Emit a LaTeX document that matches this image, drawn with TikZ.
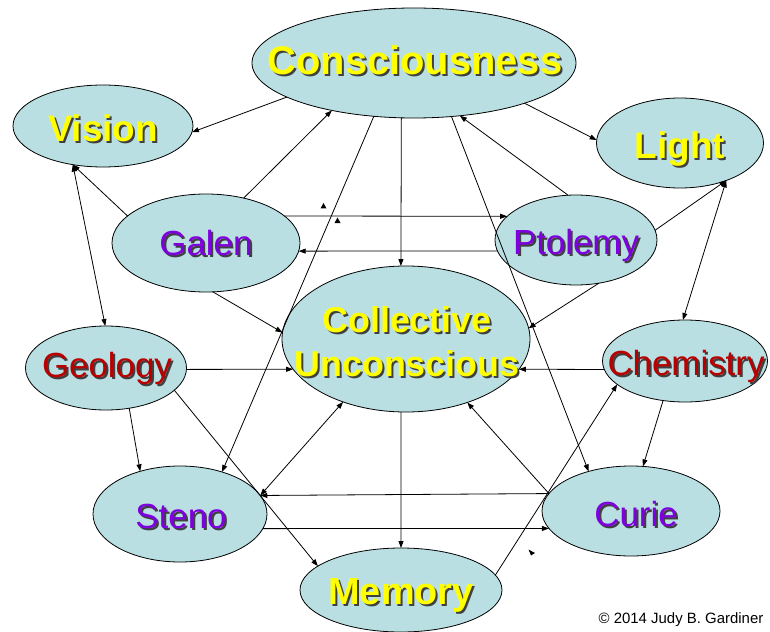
\documentclass[tikz,border=0pt]{standalone}
\usepackage{fontspec}
\setmainfont{Liberation Sans}
\usetikzlibrary{arrows.meta,shapes.geometric}
\definecolor{efill}{HTML}{B9DFE3}
\definecolor{tyel}{HTML}{FFFF00}
\definecolor{tpur}{HTML}{7F00DF}
\definecolor{tred}{HTML}{B80000}
\definecolor{tshd}{HTML}{404040}
\newcommand\shd[2]{\leavevmode\rlap{\kern2bp\raisebox{-2bp}{\textcolor{tshd}{#2}}}\textcolor{#1}{#2}}
\begin{document}
\begin{tikzpicture}[x=1bp,y=-1bp,
  elli/.style={ellipse,draw=black,line width=0.8bp,fill=efill,inner sep=0,outer sep=0},
  lbl/.style={inner sep=0,outer sep=0,anchor=base},
  bigb/.style={lbl,font=\fontsize{#1}{44}\selectfont\bfseries},
  reg/.style={lbl,font=\fontsize{35}{40}\selectfont},
  conn/.style={line width=0.8bp,-{Triangle[length=7bp,width=5bp]}},
  biconn/.style={line width=0.8bp,{Triangle[length=7bp,width=5bp]}-{Triangle[length=7bp,width=5bp]}}
]
\useasboundingbox (0,0) rectangle (770,632);

% ellipses
\node[elli,minimum width=324bp,minimum height=110bp] (cons) at (414,63) {};
\node[elli,minimum width=180bp,minimum height=82bp] (vision) at (103,126) {};
\node[elli,minimum width=167bp,minimum height=90bp] (light) at (680,143) {};
\node[elli,minimum width=188bp,minimum height=98bp] (galen) at (206,243) {};
\node[elli,minimum width=162bp,minimum height=90bp] (ptolemy) at (576,240) {};
\node[elli,minimum width=248bp,minimum height=146bp] (coll) at (406,339) {};
\node[elli,minimum width=161bp,minimum height=84bp] (geology) at (106,368) {};
\node[elli,minimum width=165bp,minimum height=82bp] (chem) at (685,361) {};
\node[elli,minimum width=174bp,minimum height=96bp] (steno) at (180,514) {};
\node[elli,minimum width=178bp,minimum height=90bp] (curie) at (631,511) {};
\node[elli,minimum width=202bp,minimum height=84bp] (memory) at (401,590) {};

% connectors
\draw[conn] (cons.195) -- (vision.-4);
\draw[conn] (galen.50) -- (cons.210);
\draw[conn] (galen.161) -- (vision.232);
\draw[biconn] (vision.232) -- (geology.91);
\draw[conn] (cons.-20) -- (light.178);
\draw[conn] (ptolemy.100) -- (cons.-49);
\draw[conn] (ptolemy.7) -- (light.-39);
\draw[biconn] (light.-39) -- (chem.93);
\draw[conn] (cons.-55) -- (curie.137);
\draw[conn] (cons.-127) -- (steno.45);
\draw[conn] (cons.-103) -- (coll.94);
\draw[conn] (galen.19) -- (ptolemy.161);
\draw[conn] (ptolemy.188) -- (galen.-5);
\draw[conn] (galen.-82) -- (coll.177);
\draw[conn] (ptolemy.-62) -- (coll.5);
\draw[conn] (geology.-1) -- (coll.195);
\draw[conn] (chem.186) -- (coll.-15);
\draw[conn] (geology.-60) -- (steno.133);
\draw[conn] (geology.-18) -- (memory.164);
\draw[biconn] (steno.13) -- (coll.225);
\draw[conn] (curie.168) -- (steno.13);
\draw[conn] (steno.-10) -- (curie.192);
\draw[conn] (curie.168) -- (coll.-46);
\draw[conn] (memory.9) -- (chem.199);
\draw[conn] (chem.241) -- (curie.75);
\draw[conn] (coll.-94) -- (memory.90);

% stray arrowheads
\fill (320.5,208.5) -- (323.5,203) -- (326.5,208.5) -- cycle;
\fill (334.5,223) -- (337.5,217.5) -- (340.5,223) -- cycle;
\fill (528.5,549.5) -- (535,553) -- (531,555.5) -- cycle;

% labels (placed on their baselines)
\node[bigb=40] (consT) at (415,75) {\shd{tyel}{Consciousness}};
\node[bigb=37] (visionT) at (103,142) {\shd{tyel}{Vision}};
\node[bigb=37] (lightT) at (680,159) {\shd{tyel}{Light}};
\node[reg] (galenT) at (206,255) {\shd{tpur}{Galen}};
\node[reg] (ptolemyT) at (576,254) {\shd{tpur}{Ptolemy}};
\node[inner sep=0,outer sep=0,align=center,font=\fontsize{36}{44}\selectfont\bfseries] (collT) at (407,343) {\shd{tyel}{Collective}\\\shd{tyel}{Unconscious}};
\node[reg] (geologyT) at (107,377) {\shd{tred}{Geology}};
\node[reg] (chemT) at (686,375) {\shd{tred}{Chemistry}};
\node[reg] (stenoT) at (181,528) {\shd{tpur}{Steno}};
\node[reg] (curieT) at (636,526) {\shd{tpur}{Curie}};
\node[bigb=38] (memoryT) at (401,604) {\shd{tyel}{Memory}};

\node[inner sep=0,outer sep=0,font=\fontsize{15}{18}\selectfont] (copy) at (681,620) {© 2014 Judy B. Gardiner};
\end{tikzpicture}
\end{document}
